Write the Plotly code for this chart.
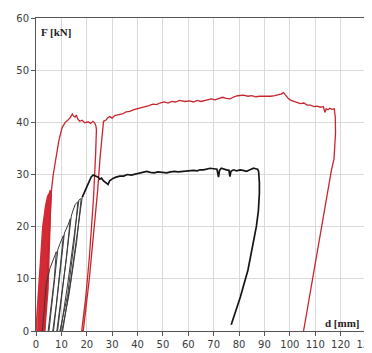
import plotly.graph_objects as go

# red specimen: ratcheting cycles near the origin
red_cyc_d = [0, 1.4, 2.7, 3.8, 4.7, 4.2, 2.6, 0.7,
             2.0, 3.2, 4.2, 5.0, 4.5, 3.0, 1.3,
             2.5, 3.6, 4.5, 5.3, 4.8, 3.4, 1.9,
             3.0, 4.0, 4.8, 5.5, 5.0, 3.8, 2.5,
             3.5, 4.4, 5.1, 5.7, 5.2, 4.3, 3.0,
             3.9, 4.8, 5.4, 5.9, 5.4, 4.7, 3.4]
red_cyc_F = [0, 10, 20, 24, 26, 20, 8, 0,
             10, 20, 24, 26.3, 20, 8, 0,
             10, 20, 24, 26.5, 20, 8, 0,
             10, 20, 24, 26.8, 20, 8, 0,
             10, 20, 24, 27, 20, 8, 0,
             10, 20, 24, 27, 20, 8, 0]

# red specimen: envelope, unload/reload at ~24 mm, plateau and final unload
red_d = [3.4, 4.3, 5.2, 5.7, 6.1, 6.8, 7.8, 9.0, 10.3, 11.5, 12.5, 13.5, 14.3, 14.8,
         15.4, 15.9, 16.5, 17.2, 18.2, 19.2, 20.5, 21.5, 22.4, 23.1, 23.6, 23.8,
         23.5, 22.6, 21.0, 19.5, 18.0, 18.6, 21.0, 23.0, 24.3, 25.2, 26.0, 26.6,
         27.5, 28.3, 29.0, 30.0, 31.0, 32.5, 34.0, 35.5, 37.0, 38.3, 40.0, 41.5,
         43.0, 44.5, 46.0, 47.5, 48.8, 50.5, 52.0, 53.5, 55.0, 56.5, 58.7, 60.5,
         62.0, 63.5, 65.0, 67.0, 69.0, 70.5, 72.0, 73.5, 75.0, 76.5, 78.0, 79.5,
         81.7, 83.5, 85.0, 86.5, 88.0, 89.6, 91.0, 92.5, 94.0, 95.5, 96.5, 97.5,
         98.5, 99.5, 100.5, 102.0, 103.0, 104.1, 105.5, 106.8, 108.1, 109.5, 110.8,
         112.0, 113.2, 113.8, 114.3, 115.0, 115.8, 116.6, 117.5, 117.9, 118.0,
         117.4, 116.4, 113.6, 109.3, 105.8, 105.4]
red_F = [0, 10, 20, 24, 27, 30, 33, 36.5, 39.0, 40.0, 40.4, 40.9, 41.6, 41.2,
         41.0, 41.4, 40.6, 40.2, 40.4, 39.9, 40.1, 39.8, 40.2, 39.9, 39.3, 38.6,
         34, 25, 14, 6, 0, 0, 10, 20, 27, 33, 38, 40.2,
         40.4, 40.9, 41.1, 40.8, 41.3, 41.5, 41.6, 42.0, 42.1, 42.4, 42.6, 42.9,
         43.0, 43.2, 43.5, 43.4, 43.7, 43.9, 43.7, 44.0, 43.9, 44.2, 44.0, 44.1,
         43.9, 44.2, 44.0, 44.3, 44.5, 44.3, 44.6, 44.8, 44.6, 44.5, 44.9, 45.1,
         45.2, 45.0, 45.1, 44.9, 45.0, 45.0, 44.9, 45.0, 45.1, 45.2, 45.4, 45.7,
         45.0, 44.5, 44.2, 44.0, 43.8, 43.6, 43.7, 43.3, 43.3, 43.0, 43.1,
         42.9, 43.0, 41.9, 42.6, 42.4, 42.7, 42.5, 42.6, 41.0, 38.0,
         33.0, 30.9, 23.0, 11.0, 1.2, 0]

# black specimen: initial loading with unload/reload loops
blk_cyc_d = [2.5, 3.3, 4.0, 5.5, 7.0, 8.0, 7.2, 6.0, 4.8, 5.1, 6.5, 7.8, 8.6,
             9.5, 10.8, 9.5, 8.0, 6.6, 6.9, 8.5, 10.0, 11.2,
             12.6, 13.5, 12.0, 10.0, 8.2, 8.5, 10.3, 12.2, 13.9,
             14.5, 15.5, 16.5, 15.0, 12.5, 9.4, 9.7, 12.5, 15.0, 16.9,
             17.8, 16.0, 13.0, 10.2, 10.5, 13.5, 16.2, 18.2]
blk_cyc_F = [0, 5, 9, 12, 14, 15.2, 10, 4.5, 0, 0, 6, 12, 15.6,
             16.8, 18.3, 12, 5, 0, 0, 7, 14, 18.8,
             20.3, 21.5, 14, 6, 0, 0, 7, 15, 22,
             23, 24.3, 24.8, 17, 7, 0, 0, 9, 18, 25.1,
             25.4, 17, 7, 0, 0, 9, 18, 25.6]

# black specimen: plateau and unloading
blk_d = [18.2, 19.0, 19.8, 20.8, 21.7, 22.5, 23.2, 23.7, 24.5, 25.1, 25.8, 26.5,
         27.7, 28.4, 29.0, 29.7, 30.5, 31.5, 33.0, 34.5, 36.0, 37.5, 39.0, 40.5,
         42.0, 43.6, 45.0, 46.5, 48.0, 49.5, 51.5, 53.0, 54.5, 56.0, 57.5, 59.0,
         60.5, 62.0, 63.5, 64.6, 66.0, 67.5, 68.6, 70.0, 71.3, 71.9, 72.3, 73.0,
         74.0, 75.0, 76.0, 76.4, 76.8, 77.8, 79.0, 80.4, 81.5, 83.0, 84.3, 85.7,
         86.5, 87.3, 87.7, 88.0, 88.0, 87.6, 86.8, 85.3, 83.5, 80.5, 78.0, 76.9]
blk_F = [25.6, 26.5, 27.7, 28.8, 29.5, 29.9, 29.8, 29.7, 29.5, 29.1, 29.3, 28.8,
         28.3, 28.1, 28.8, 29.1, 29.3, 29.5, 29.7, 29.7, 30.0, 29.9, 30.1, 30.3,
         30.4, 30.6, 30.4, 30.3, 30.5, 30.4, 30.3, 30.5, 30.6, 30.5, 30.6, 30.6,
         30.7, 30.8, 30.7, 30.9, 30.9, 31.0, 31.2, 31.1, 31.0, 29.5, 30.8, 31.2,
         31.0, 30.9, 30.8, 29.6, 30.6, 30.9, 30.7, 30.9, 30.8, 30.6, 30.9, 31.2,
         31.1, 31.0, 30.6, 28.5, 26.4, 23.0, 20.0, 16.0, 11.7, 6.5, 2.5, 1.2]

x_ticks = list(range(0, 131, 10))
y_ticks = list(range(0, 61, 10))

fig = go.Figure()
fig.add_trace(go.Scatter(x=red_cyc_d, y=red_cyc_F, mode='lines',
                         line=dict(color='#d42a35', width=1.6)))
fig.add_trace(go.Scatter(x=red_d, y=red_F, mode='lines',
                         line=dict(color='#c8262e', width=1.3)))
fig.add_trace(go.Scatter(x=blk_cyc_d, y=blk_cyc_F, mode='lines',
                         line=dict(color='#3a3a3a', width=1)))
fig.add_trace(go.Scatter(x=blk_d, y=blk_F, mode='lines',
                         line=dict(color='#151515', width=1.7)))

axis_style = dict(showline=True, mirror=True, linecolor='#555555', linewidth=1,
                  gridcolor='#dadada', gridwidth=1, zeroline=False,
                  ticks='outside', ticklen=4, tickcolor='#555555',
                  ticklabeloverflow='allow',
                  tickfont=dict(family='DejaVu Sans', size=10, color='#3a3a3a'))

# the page body adds an 8px offset, so the figure is a bit smaller than the window
fig.update_layout(
    width=364, height=345,
    margin=dict(l=28, r=6, t=10, b=22),
    paper_bgcolor='white', plot_bgcolor='white',
    showlegend=False,
    xaxis=dict(range=[0, 130], tickvals=x_ticks, automargin=False, **axis_style),
    yaxis=dict(range=[0, 60], tickvals=y_ticks, automargin=False, **axis_style),
    annotations=[
        dict(text='<b>F [kN]</b>', x=0.009, y=0.955, xref='paper', yref='paper',
             xanchor='left', yanchor='middle', showarrow=False,
             font=dict(family='Liberation Serif', size=11, color='#222222')),
        dict(text='<b>d [mm]</b>', x=0.988, y=0.026, xref='paper', yref='paper',
             xanchor='right', yanchor='middle', showarrow=False,
             font=dict(family='Liberation Serif', size=11, color='#222222')),
    ],
)

fig.write_html("out.html")
